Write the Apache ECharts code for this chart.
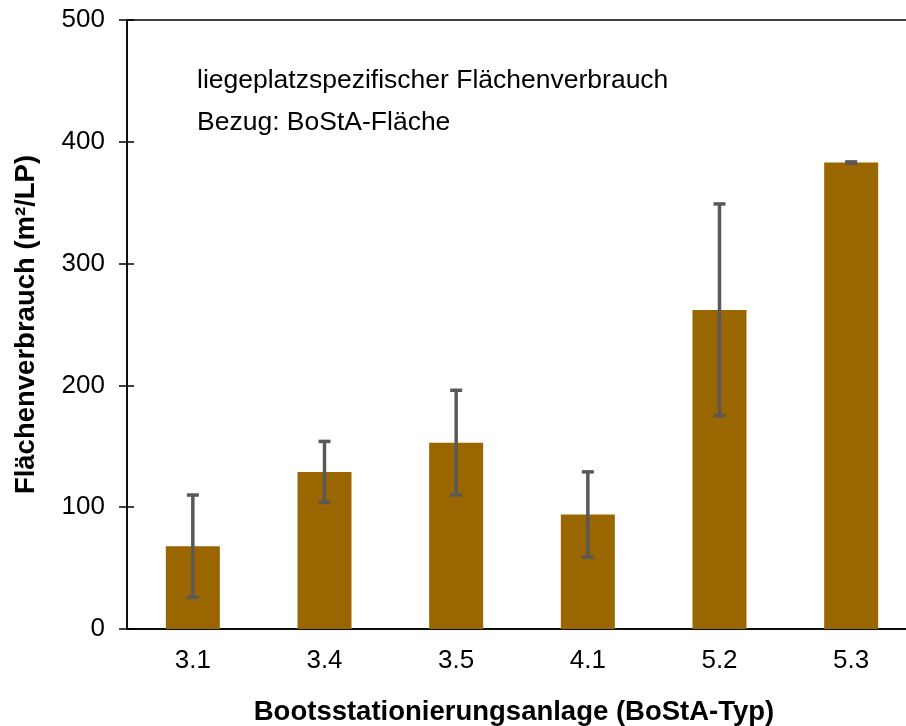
<!DOCTYPE html>
<html><head><meta charset="utf-8">
<script src="https://cdn.jsdelivr.net/npm/echarts@6/dist/echarts.min.js"></script>
<style>html,body{margin:0;padding:0;background:#fff}#c{width:906px;height:726px}</style>
</head><body><div id="c"></div>
<script>
var categories = ['3.1', '3.4', '3.5', '4.1', '5.2', '5.3'];
var means = [68, 129, 153, 94, 262, 383];
var errors = [42, 25, 43, 35, 87, 0.5];
var yTicks = [0, 100, 200, 300, 400, 500];
var annotation = ['liegeplatzspezifischer Flächenverbrauch', 'Bezug: BoStA-Fläche'];

var FONT = 'Liberation Sans, Arial, sans-serif';
var chart = echarts.init(document.getElementById('c'), null, {renderer: 'canvas'});
var errData = means.map(function (m, i) { return [i, m - errors[i], m + errors[i]]; });

chart.setOption({
  animation: false,
  backgroundColor: '#fff',
  title: {
    text: annotation.join('\n'),
    left: 197, top: 60, padding: 0,
    textStyle: {fontFamily: FONT, fontSize: 26.5, fontWeight: 'normal', color: '#000', lineHeight: 42}
  },
  grid: {left: 127, top: 20, width: 790, height: 609, show: true, borderColor: '#000', borderWidth: 1.5,
    containLabel: false, outerBoundsMode: 'none'},
  xAxis: {
    type: 'category', data: categories,
    axisLine: {lineStyle: {color: '#000', width: 1.5}},
    axisTick: {show: false},
    axisLabel: {fontFamily: FONT, fontSize: 26, color: '#000', margin: 19},
    name: 'Bootsstationierungsanlage (BoStA-Typ)', nameLocation: 'middle', nameGap: 69,
    nameTextStyle: {fontFamily: FONT, fontSize: 27.5, fontWeight: 'bold', color: '#000', padding: [0, 16, 0, 0]}
  },
  yAxis: [{
    type: 'value', min: 0, max: 500, interval: 100,
    axisLine: {show: true, lineStyle: {color: '#000', width: 1.5}},
    axisTick: {show: true, length: 8, lineStyle: {color: '#000', width: 1.5}},
    splitLine: {show: false},
    axisLabel: {fontFamily: FONT, fontSize: 26, color: '#000', margin: 22,
      formatter: function (v) { return yTicks.indexOf(v) >= 0 ? String(v) : ''; }},
    name: 'Flächenverbrauch (m²/LP)', nameLocation: 'middle', nameGap: 87, nameRotate: 90,
    nameTextStyle: {fontFamily: FONT, fontSize: 27.5, fontWeight: 'bold', color: '#000'}
  }, {
    type: 'value', min: 0, max: 500, interval: 100, position: 'left',
    axisLine: {show: false}, splitLine: {show: false}, axisLabel: {show: false},
    axisTick: {show: true, inside: true, length: 7, lineStyle: {color: '#000', width: 1.5}}
  }],
  series: [{
    type: 'bar', data: means, barWidth: 54,
    itemStyle: {color: '#996600'}
  }, {
    type: 'custom', data: errData, z: 10,
    renderItem: function (params, api) {
      var x = api.value(0);
      var lo = api.coord([x, api.value(1)]);
      var hi = api.coord([x, api.value(2)]);
      var hw = 6;
      var st = {stroke: '#595959', lineWidth: 3.5};
      return {type: 'group', children: [
        {type: 'line', shape: {x1: lo[0], y1: lo[1], x2: hi[0], y2: hi[1]}, style: st},
        {type: 'line', shape: {x1: hi[0] - hw, y1: hi[1], x2: hi[0] + hw, y2: hi[1]}, style: st},
        {type: 'line', shape: {x1: lo[0] - hw, y1: lo[1], x2: lo[0] + hw, y2: lo[1]}, style: st}
      ]};
    }
  }]
});
</script></body></html>
